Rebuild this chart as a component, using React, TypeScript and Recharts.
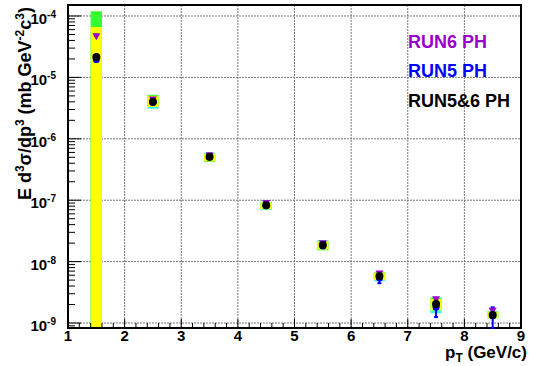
import {
    ComposedChart,
    Scatter,
    XAxis,
    YAxis,
    CartesianGrid,
    ReferenceArea,
    ErrorBar
} from "recharts"

// pT bin centres (GeV/c)
const PT = [1.5, 2.5, 3.5, 4.5, 5.5, 6.5, 7.5, 8.5]

// invariant yields, mb GeV^-2 c^3
const RUN56 = [2.15e-5, 4.0e-6, 5.1e-7, 8.3e-8, 1.86e-8, 5.8e-9, 2.05e-9, 1.35e-9]
const RUN6 = [4.6e-5, 4.3e-6, 5.3e-7, 8.8e-8, 1.95e-8, 6.3e-9, 2.4e-9, 1.55e-9]
const RUN5 = [1.95e-5, 3.9e-6, 5.0e-7, 8.1e-8, 1.8e-8, 5.4e-9, 1.8e-9, 1.3e-9]
const RUN5_LO = [1.8e-5, 3.7e-6, 4.8e-7, 7.8e-8, 1.7e-8, 4.45e-9, 1.25e-9, 8.3e-10]
const RUN5_HI = [2.1e-5, 4.1e-6, 5.2e-7, 8.4e-8, 1.9e-8, 6.5e-9, 2.5e-9, 1.8e-9]

// systematic boxes
const SYS56_LO = [1e-10, 3.3e-6, 4.3e-7, 7.1e-8, 1.58e-8, 5.0e-9, 1.6e-9, 1.2e-9]
const SYS56_HI = [6.6e-5, 5.0e-6, 5.7e-7, 9.2e-8, 2.15e-8, 6.5e-9, 2.45e-9, 1.5e-9]
const SYS6_LO = [1e-10, 3.4e-6, 4.2e-7, 7.2e-8, 1.53e-8, 5.2e-9, 1.8e-9, 1.25e-9]
const SYS6_HI = [1.2e-4, 5.2e-6, 5.6e-7, 9.4e-8, 2.1e-8, 6.7e-9, 2.6e-9, 1.55e-9]
const SYS5_LO = [1e-10, 3.1e-6, 4.4e-7, 6.9e-8, 1.6e-8, 4.8e-9, 1.45e-9, 1.19e-9]
const SYS5_HI = [5.0e-5, 4.8e-6, 5.9e-7, 9.0e-8, 2.23e-8, 6.3e-9, 2.2e-9, 1.45e-9]

const X_MIN = 1
const X_MAX = 9
const Y_MIN = 8.3e-10
const Y_MAX = 1.51e-4

const X_GRID = [2, 3, 4, 5, 6, 7, 8]
const Y_MAJOR = [1e-9, 1e-8, 1e-7, 1e-6, 1e-5, 1e-4]

const X_TICKS: number[] = []
for (let i = 0; i <= 40; i++) X_TICKS.push(Math.round((X_MIN + i * 0.2) * 10) / 10)

const Y_TICKS: number[] = [...Y_MAJOR]
for (let d = -10; d <= -5; d++) {
    for (let m = 2; m <= 9; m++) {
        const v = m * Math.pow(10, d)
        if (v > Y_MIN && v < Y_MAX) Y_TICKS.push(v)
    }
}

const BOX_HALF = 0.1
const FONT = "'Liberation Sans', Arial, Helvetica, sans-serif"

const black = PT.map((x, i) => ({ x, y: RUN56[i] }))
const purple = PT.map((x, i) => ({ x, y: RUN6[i] }))
const blue = PT.map((x, i) => ({ x, y: RUN5[i], err: [RUN5[i] - RUN5_LO[i], RUN5_HI[i] - RUN5[i]] }))

function XTick({ x, y, payload }: any) {
    const v = payload.value
    const major = Math.abs(v - Math.round(v)) < 1e-6
    return (
        <g>
            <line x1={x} x2={x} y1={y} y2={y - (major ? 9 : 5)} stroke="#000" strokeWidth={1} />
            {major && (
                <text x={x} y={y + 13} textAnchor="middle" fontSize={15} fontWeight="bold" fontFamily={FONT} fill="#000">
                    {Math.round(v)}
                </text>
            )}
        </g>
    )
}

function YTick({ x, y, payload }: any) {
    const v = payload.value
    const major = Y_MAJOR.indexOf(v) >= 0
    const exp = Math.round(Math.log10(v))
    return (
        <g>
            <line x1={x} x2={x + (major ? 13 : 7)} y1={y} y2={y} stroke="#000" strokeWidth={1} />
            {major && (
                <text x={x - 12} y={y + 8} textAnchor="end" fontSize={15} fontWeight="bold" fontFamily={FONT} fill="#000">
                    10<tspan dy={-6} fontSize={10}>{"-" + Math.abs(exp)}</tspan>
                </text>
            )}
        </g>
    )
}

const triangleDown = (p: any) => (
    <polygon
        points={`${p.cx - 4},${p.cy - 3.5} ${p.cx + 4},${p.cy - 3.5} ${p.cx},${p.cy + 3.5}`}
        fill="#9900cc"
    />
)

function boxes(lo: number[], hi: number[], color: string, name: string) {
    return PT.map((x, i) => (
        <ReferenceArea
            key={name + i}
            x1={x - BOX_HALF}
            x2={x + BOX_HALF}
            y1={lo[i]}
            y2={hi[i]}
            fill={color}
            fillOpacity={1}
            stroke="none"
            ifOverflow="hidden"
        />
    ))
}

export default function App() {
    return (
        <div style={{ position: "absolute", left: 0, top: 0, width: 535, height: 366, background: "#fff" }}>
            <ComposedChart width={535} height={366} margin={{ top: 5, right: 14, bottom: 0, left: 0 }}>
                <CartesianGrid
                    verticalValues={X_GRID}
                    horizontalValues={Y_MAJOR}
                    stroke="#777"
                    strokeDasharray="2 1"
                />
                <XAxis
                    dataKey="x"
                    type="number"
                    domain={[X_MIN, X_MAX]}
                    ticks={X_TICKS}
                    interval={0}
                    allowDataOverflow
                    height={38}
                    tickSize={0}
                    tickMargin={0}
                    axisLine={false}
                    tickLine={false}
                    tick={<XTick />}
                />
                <YAxis
                    type="number"
                    scale="log"
                    domain={[Y_MIN, Y_MAX]}
                    ticks={Y_TICKS}
                    interval={0}
                    allowDataOverflow
                    width={68}
                    tickSize={0}
                    tickMargin={0}
                    axisLine={false}
                    tickLine={false}
                    tick={<YTick />}
                />
                {boxes(SYS5_LO, SYS5_HI, "#33ffee", "c")}
                {boxes(SYS6_LO, SYS6_HI, "#33ff33", "g")}
                {boxes(SYS56_LO, SYS56_HI, "#ffff00", "y")}
                <ReferenceArea
                    x1={X_MIN}
                    x2={X_MAX}
                    y1={Y_MIN}
                    y2={Y_MAX}
                    fill="none"
                    stroke="#000"
                    strokeWidth={2}
                    ifOverflow="visible"
                />
                <Scatter data={purple} dataKey="y" shape={triangleDown} isAnimationActive={false} />
                <Scatter
                    data={blue}
                    dataKey="y"
                    shape={(p: any) => <circle cx={p.cx} cy={p.cy} r={3.5} fill="#0000ff" />}
                    isAnimationActive={false}
                >
                    <ErrorBar dataKey="err" direction="y" width={2} stroke="#0000ff" strokeWidth={2} isAnimationActive={false} />
                </Scatter>
                <Scatter
                    data={black}
                    dataKey="y"
                    shape={(p: any) => <circle cx={p.cx} cy={p.cy} r={4} fill="#000" />}
                    isAnimationActive={false}
                />
            </ComposedChart>
            <svg width={535} height={366} style={{ position: "absolute", left: 0, top: 0, pointerEvents: "none" }}>
                <g fontFamily={FONT} fontWeight="bold" fill="#000">
                    <text transform="translate(31,7) rotate(-90)" textAnchor="end" fontSize={18}>
                        E d<tspan dy={-7} fontSize={12}>3</tspan>
                        <tspan dy={7}>σ/dp</tspan>
                        <tspan dy={-7} fontSize={12}>3</tspan>
                        <tspan dy={7}> (mb GeV</tspan>
                        <tspan dy={-7} fontSize={12}>-2</tspan>
                        <tspan dy={7}>c</tspan>
                        <tspan dy={-7} fontSize={12}>3</tspan>
                        <tspan dy={7}>)</tspan>
                    </text>
                    <text x={527} y={358} textAnchor="end" fontSize={17}>
                        p<tspan dy={4} fontSize={12}>T</tspan>
                        <tspan dy={-4}> (GeV/c)</tspan>
                    </text>
                    <text x={408} y={48} fontSize={18} fill="#9900cc">RUN6 PH</text>
                    <text x={408} y={77} fontSize={18} fill="#0000ff">RUN5 PH</text>
                    <text x={408} y={107} fontSize={18} fill="#000">RUN5&amp;6 PH</text>
                </g>
            </svg>
        </div>
    )
}
